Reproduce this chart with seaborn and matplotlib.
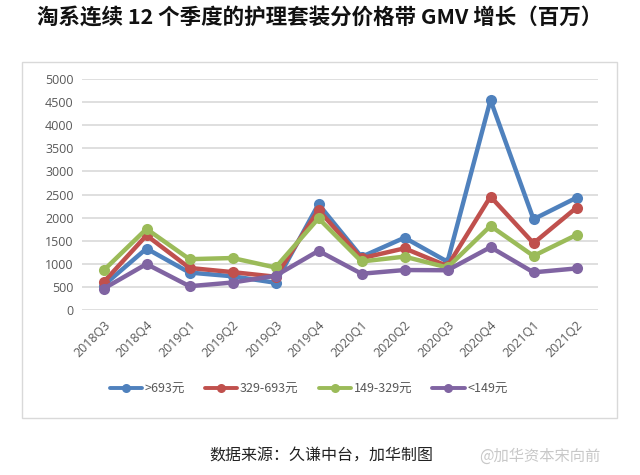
import numpy as np
import pandas as pd
import matplotlib
matplotlib.use("Agg")
import matplotlib.pyplot as plt
import seaborn as sns
from matplotlib.patches import Rectangle

quarters = ["2018Q3", "2018Q4", "2019Q1", "2019Q2", "2019Q3", "2019Q4",
            "2020Q1", "2020Q2", "2020Q3", "2020Q4", "2021Q1", "2021Q2"]
series_names = [">693元", "329-693元", "149-329元", "<149元"]
gt693 = [530, 1330, 810, 730, 590, 2290, 1150, 1565, 1045, 4545, 1965, 2430]
r329_693 = [600, 1615, 910, 820, 720, 2165, 1120, 1335, 950, 2455, 1445, 2215]
r149_329 = [855, 1755, 1100, 1125, 920, 1985, 1050, 1155, 920, 1820, 1170, 1625]
lt149 = [460, 995, 515, 595, 740, 1280, 785, 865, 860, 1360, 815, 900]
colors = ["#4F81BD", "#C0504D", "#9BBB59", "#8064A2"]

title = "淘系连续 12 个季度的护理套装分价格带 GMV 增长（百万）"
source = "数据来源：久谦中台，加华制图"
watermark = "@加华资本宋向前"

rows = []
for name, vals in zip(series_names, [gt693, r329_693, r149_329, lt149]):
    for q, v in zip(quarters, vals):
        rows.append({"季度": q, "GMV": v, "价格带": name})
df = pd.DataFrame(rows)

sns.set_theme(style="white")
plt.rcParams["font.family"] = ["Noto Sans CJK SC", "DejaVu Sans"]

fig = plt.figure(figsize=(6.4, 4.75), dpi=100)
W, H = 640, 475
ax = fig.add_axes([82 / W, 1 - 310 / H, (598 - 82) / W, (310 - 79) / H])

# chart border
fig.patches.append(Rectangle((22 / W, 1 - 418 / H), (617 - 22) / W, (418 - 62) / H,
                             transform=fig.transFigure, fill=False,
                             edgecolor="#D9D9D9", linewidth=1.0))

sns.lineplot(data=df, x="季度", y="GMV", hue="价格带", palette=colors,
             marker="o", markersize=8, markeredgewidth=0, linewidth=3.2,
             sort=False, ax=ax, legend=True)

ax.set_ylim(0, 5000)
ax.set_yticks(np.arange(0, 5001, 500))
ax.set_xlim(-0.5, len(quarters) - 0.5)
ax.yaxis.grid(True, color="#D9D9D9", linewidth=1.2)
ax.set_axisbelow(True)
for s in ax.spines.values():
    s.set_visible(False)
ax.set_xlabel("")
ax.set_ylabel("")
ax.tick_params(axis="both", length=0, labelsize=9, colors="#595959", pad=6)
plt.setp(ax.get_xticklabels(), rotation=45, ha="right", rotation_mode="anchor")
for lbl in ax.get_xticklabels() + ax.get_yticklabels():
    lbl.set_fontfamily(["Open Sans", "DejaVu Sans"])

handles, labels = ax.get_legend_handles_labels()
for h in handles:
    h.set_markersize(6.5)
    h.set_linewidth(2.8)
ax.legend(handles, labels, loc="center", bbox_to_anchor=(0.5 * (112 + 505) / W, 1 - 389 / H),
          bbox_transform=fig.transFigure, ncol=4, frameon=False, fontsize=9,
          handlelength=2.6, columnspacing=1.6, handletextpad=0.2,
          labelcolor="#595959")

fig.text(0.5, 1 - 18 / H, title, ha="center", va="center", fontsize=15.5,
         fontweight="bold", color="#111111")
fig.text(321 / W, 1 - 456 / H, source, ha="center", va="center", fontsize=11.5,
         color="#222222")
fig.text(540 / W, 1 - 456 / H, watermark, ha="center", va="center", fontsize=11,
         color="#C8C8C8")

fig.savefig("out.png", dpi=100)
